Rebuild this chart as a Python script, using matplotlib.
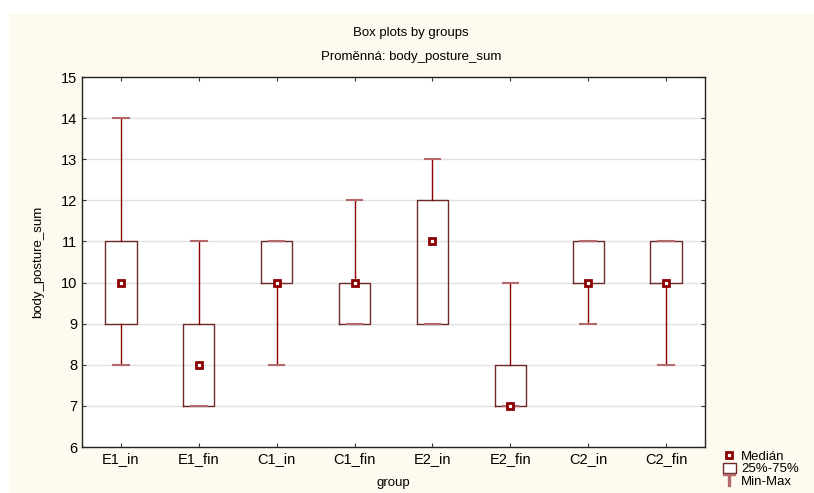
import matplotlib.pyplot as plt
from matplotlib.patches import Rectangle, Patch
from matplotlib.lines import Line2D

plt.rcParams["font.family"] = ["Liberation Sans", "DejaVu Sans"]

groups = ["E1_in", "E1_fin", "C1_in", "C1_fin", "E2_in", "E2_fin", "C2_in", "C2_fin"]
mins = [8, 7, 8, 9, 9, 7, 9, 8]
q1s = [9, 7, 10, 9, 9, 7, 10, 10]
medians = [10, 8, 10, 10, 11, 7, 10, 10]
q3s = [11, 9, 11, 10, 12, 8, 11, 11]
maxs = [14, 11, 11, 12, 13, 10, 11, 11]

DARK_RED = "#8b0000"
BOX_EDGE = "#6e2a2a"
CAP = "#b46a6a"
CREAM = "#fffaef"

fig = plt.figure(figsize=(8.14, 4.93), dpi=100)
fig.patches.append(Rectangle((9 / 814, 0), 1, 1 - 14 / 493, transform=fig.transFigure,
                             facecolor=CREAM, edgecolor="none", zorder=-10))

ax = fig.add_axes([82 / 814, 1 - 447 / 493, (705 - 82) / 814, (447 - 77) / 493])
ax.set_facecolor("white")

stats = []
for g, lo, a, m, b, hi in zip(groups, mins, q1s, medians, q3s, maxs):
    stats.append({"label": g, "whislo": lo, "q1": a, "med": m, "q3": b,
                  "whishi": hi, "fliers": []})

positions = list(range(1, len(groups) + 1))
ax.bxp(stats, positions=positions, widths=0.4, showfliers=False,
       boxprops=dict(color=BOX_EDGE, linewidth=1.0),
       whiskerprops=dict(color=DARK_RED, linewidth=1.0),
       capprops=dict(color=CAP, linewidth=1.5),
       medianprops=dict(linewidth=0),
       capwidths=0.2)
ax.plot(positions, medians, linestyle="none", marker="s", markersize=5,
        markerfacecolor="white", markeredgecolor=DARK_RED, markeredgewidth=2.0, zorder=5)

ax.set_xlim(0.5, 8.5)
ax.set_ylim(6, 15)
ax.set_yticks(range(6, 16))
ax.set_xticks(positions)
ax.set_xticklabels(groups)
ax.yaxis.grid(True, color="#e2e2e2", linewidth=1.0)
ax.set_axisbelow(True)
ax.tick_params(direction="in", top=True, right=True, length=3, labelsize=10.5, color="#333333")
for s in ax.spines.values():
    s.set_color("#222222")
    s.set_linewidth(1.0)

ax.set_xlabel("group", fontsize=9.5, labelpad=8)
ax.set_ylabel("body_posture_sum", fontsize=9.5, labelpad=12)

fig.text(411 / 814, 1 - 33 / 493, "Box plots by groups", ha="center", va="center", fontsize=9.5)
fig.text(411 / 814, 1 - 57 / 493, "Proměnná: body_posture_sum", ha="center", va="center", fontsize=9.5)

handles = [
    Line2D([], [], linestyle="none", marker="s", markersize=4.5, markerfacecolor="white",
           markeredgecolor=DARK_RED, markeredgewidth=2.0),
    Patch(facecolor="white", edgecolor=BOX_EDGE, linewidth=1.0),
    Line2D([], [], linestyle="none", marker=r"$\top$", markersize=9, color=CAP),
]
fig.legend(handles, ["Medián", "25%-75%", "Min-Max"], loc="upper left",
           bbox_to_anchor=(716 / 814, 1 - 444 / 493), frameon=False, fontsize=9.5,
           handlelength=1.0, handleheight=0.75, handletextpad=0.4, labelspacing=0.0,
           borderpad=0.0)

fig.savefig("out.png", dpi=100)
